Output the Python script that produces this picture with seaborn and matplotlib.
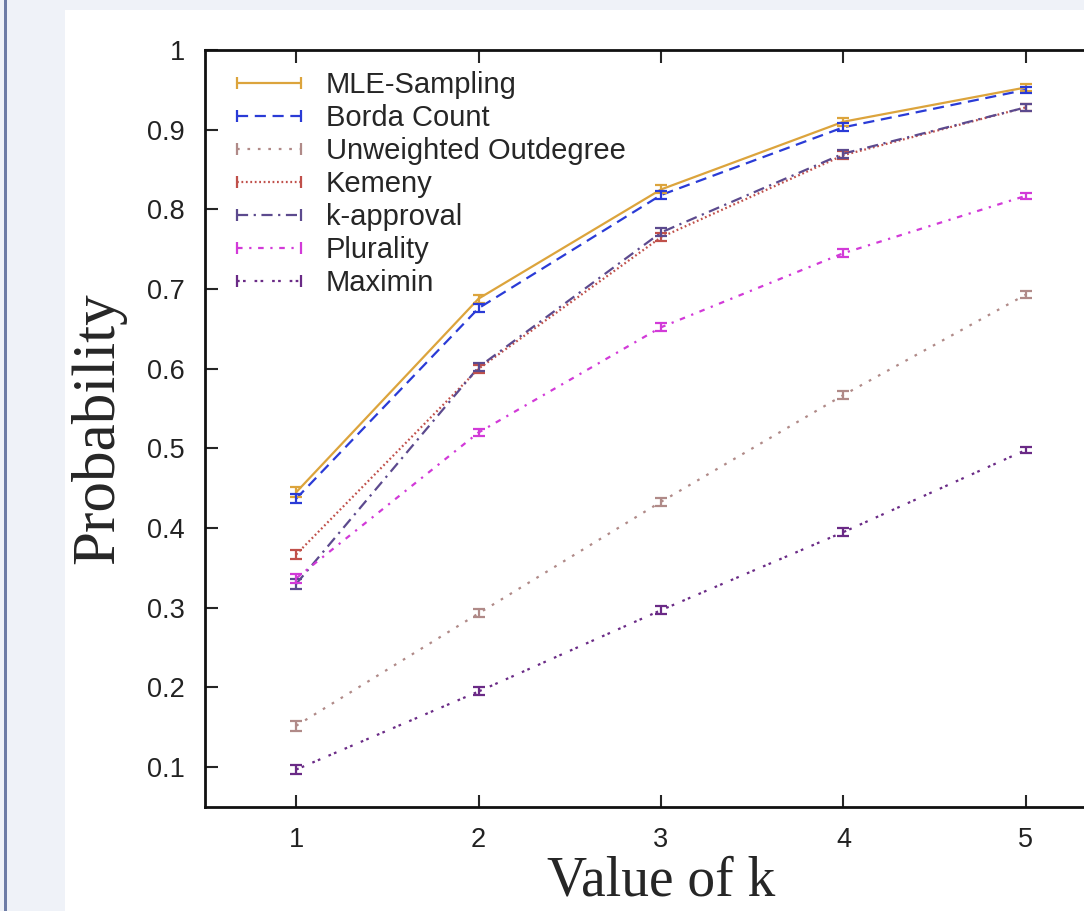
import numpy as np
import pandas as pd
import matplotlib
matplotlib.use('Agg')
import matplotlib.pyplot as plt
import seaborn as sns
from matplotlib.lines import Line2D
from matplotlib.patches import Rectangle

# data
k_values = [1, 2, 3, 4, 5]
methods = ['MLE-Sampling', 'Borda Count', 'Unweighted Outdegree', 'Kemeny',
           'k-approval', 'Plurality', 'Maximin']
mle = [0.445, 0.688, 0.825, 0.910, 0.953]
borda = [0.437, 0.676, 0.818, 0.903, 0.950]
unweighted = [0.152, 0.293, 0.433, 0.567, 0.693]
kemeny = [0.367, 0.600, 0.765, 0.868, 0.928]
kapproval = [0.330, 0.602, 0.771, 0.870, 0.928]
plurality = [0.337, 0.520, 0.652, 0.745, 0.817]
maximin = [0.097, 0.195, 0.297, 0.395, 0.498]
err = [0.006, 0.005, 0.005, 0.005, 0.004]

series = [mle, borda, unweighted, kemeny, kapproval, plurality, maximin]

colors = {'MLE-Sampling': '#dca43c', 'Borda Count': '#2a3bd6',
          'Unweighted Outdegree': '#b08a88', 'Kemeny': '#c0504a',
          'k-approval': '#5c4a8e', 'Plurality': '#d23ad8',
          'Maximin': '#6a2a86'}
dashes = {'MLE-Sampling': '',
          'Borda Count': (5, 3),
          'Unweighted Outdegree': (1.2, 3.5),
          'Kemeny': (0.8, 1.2),
          'k-approval': (5, 2.5, 1, 2.5),
          'Plurality': (2.5, 3, 1, 3),
          'Maximin': (1.2, 1.5, 1.2, 4)}

rows = []
for name, vals in zip(methods, series):
    for k, v in zip(k_values, vals):
        rows.append({'k': k, 'prob': v, 'method': name})
df = pd.DataFrame(rows)

sns.set_style('ticks')
plt.rcParams['font.family'] = ['Liberation Sans', 'DejaVu Sans']

fig = plt.figure(figsize=(10.84, 9.11), dpi=100, facecolor='#eff2f8')
# white panel and left border like the original page
fig.patches.append(Rectangle((65 / 1084, 0), 1, 1 - 10 / 911, transform=fig.transFigure,
                             facecolor='white', edgecolor='none', zorder=-10))
fig.patches.append(Rectangle((4 / 1084, 0), 2.5 / 1084, 1, transform=fig.transFigure,
                             facecolor='#6d7ca6', edgecolor='none', zorder=-10))

ax = fig.add_axes([205 / 1084, 1 - 807 / 911, 912 / 1084, 757 / 911])
ax.set_facecolor('white')

sns.lineplot(data=df, x='k', y='prob', hue='method', style='method',
             palette=colors, dashes=dashes, linewidth=1.6, legend=False, ax=ax)

for name, vals in zip(methods, series):
    ax.errorbar(k_values, vals, yerr=err, fmt='none', ecolor=colors[name],
                elinewidth=1.6, capsize=4, capthick=1.6)

ax.set_xlim(0.5, 5.5)
ax.set_ylim(0.05, 1.0)
ax.set_xticks(k_values)
ax.set_yticks([0.1, 0.2, 0.3, 0.4, 0.5, 0.6, 0.7, 0.8, 0.9, 1.0])
ax.set_yticklabels(['0.1', '0.2', '0.3', '0.4', '0.5', '0.6', '0.7', '0.8', '0.9', '1'])
ax.tick_params(direction='in', length=9, width=1.5, labelsize=19.5, top=True,
               right=False, pad=14.5, labelcolor='#222222')
for s in ['left', 'bottom', 'top']:
    ax.spines[s].set_linewidth(2.0)
    ax.spines[s].set_color('#111111')
ax.spines['right'].set_visible(False)

ax.set_xlabel('Value of k', fontsize=40, family='Liberation Serif', labelpad=2)
ax.set_ylabel('Probability', fontsize=44, family='Liberation Serif', labelpad=15)

handles = []
for name in methods:
    handles.append(Line2D([0], [0], color=colors[name], linewidth=1.6,
                          dashes=dashes[name] if dashes[name] else (None, None),
                          marker='|', markersize=9, markeredgewidth=1.6))
leg = ax.legend(handles, methods, loc='upper left', bbox_to_anchor=(0.006, 0.995),
                frameon=False, fontsize=21, numpoints=2, handlelength=2.8,
                handletextpad=0.55, labelspacing=0.17, borderaxespad=0.2)

plt.savefig('out.png', dpi=100, facecolor=fig.get_facecolor())
